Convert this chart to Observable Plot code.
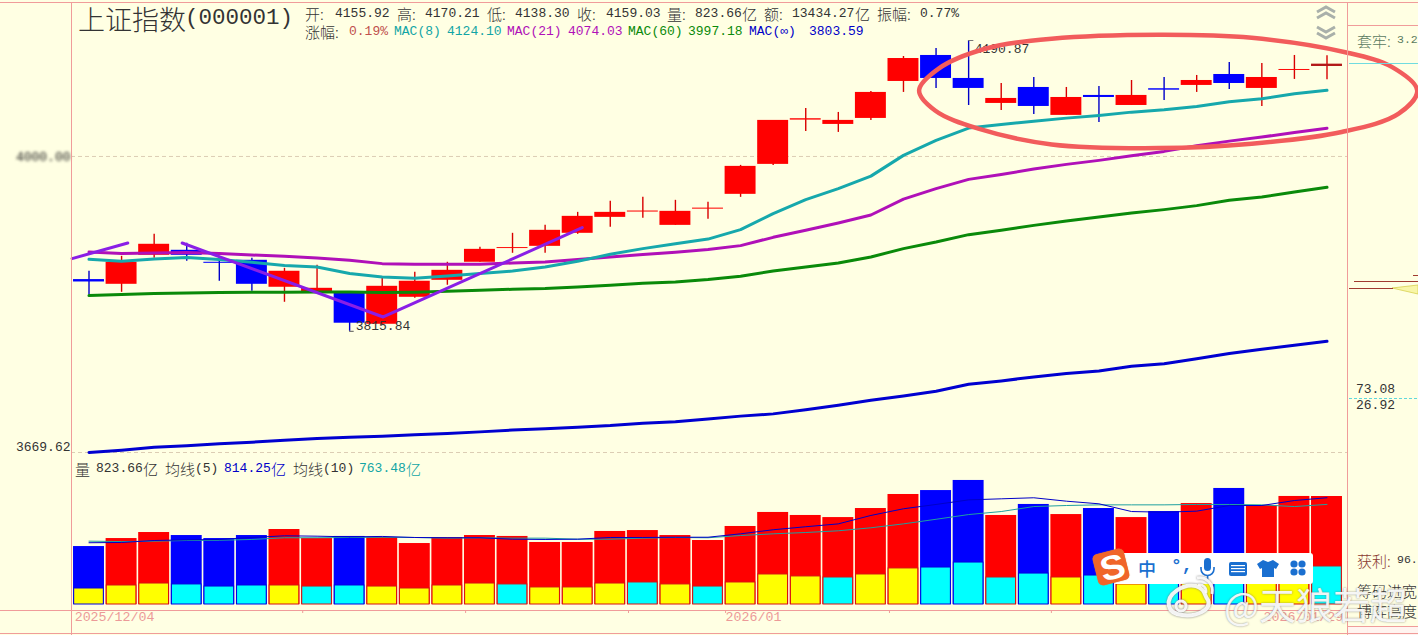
<!DOCTYPE html>
<html lang="zh">
<head>
<meta charset="utf-8">
<script src="https://cdn.jsdelivr.net/npm/d3@7"></script>
<script src="https://cdn.jsdelivr.net/npm/@observablehq/plot@0.6"></script>
<style>
html,body{margin:0;padding:0;background:#FFFFE3;}
#chartBox{position:relative;width:1418px;height:635px;overflow:hidden;background:#FFFFE3;}
#chartBox svg.plot{position:absolute;left:0;}
.t{position:absolute;white-space:pre;transform:translateY(-50%);line-height:1;}
.r{position:absolute;}
</style>
</head>
<body>
<div id="chartBox"></div>
<script>
// ---------- price data (index points, log scale) ----------
const opens = [3880.0,3874.1,3910.5,3916.8,3901.7,3904.2,3870.4,3864.1,3862.9,3824.5,3857.9,3879.1,3901.7,3919.0,3921.8,3938.3,3958.6,3965.4,3948.4,3969.1,3988.1,4026.8,4084.7,4079.0,4086.9,4135.9,4170.7,4139.9,4106.7,4127.9,4090.9,4117.3,4104.0,4126.2,4130.6,4145.2,4126.6,4150.6,4155.92];
const closes = [3877.0,3901.7,3924.4,3910.5,3900.4,3874.1,3890.4,3869.1,3825.8,3871.6,3877.9,3891.6,3918.0,3920.2,3942.1,3959.9,3965.0,3966.7,3966.3,3970.4,4024.2,4084.3,4086.5,4084.3,4121.3,4166.6,4139.9,4126.6,4113.3,4102.7,4114.6,4114.6,4117.3,4124.3,4137.2,4133.2,4141.2,4151.9,4159.03];
const highs = [3890.4,3909.2,3937.0,3925.6,3909.2,3906.7,3894.1,3897.9,3864.1,3881.6,3889.1,3901.7,3920.5,3938.3,3948.4,3965.0,3979.1,3984.2,3980.4,3977.8,4025.5,4084.3,4100.1,4094.8,4122.6,4169.3,4180.1,4190.87,4133.2,4141.2,4127.9,4129.2,4137.2,4141.2,4143.9,4161.3,4160.0,4170.7,4170.21];
const lows = [3860.4,3864.1,3906.7,3902.9,3877.9,3865.4,3851.7,3862.9,3815.84,3823.3,3856.7,3872.9,3901.7,3913.0,3913.0,3937.0,3945.9,3957.4,3948.4,3956.1,3984.2,4025.5,4069.8,4068.5,4084.3,4121.3,4126.6,4104.0,4097.4,4092.2,4090.9,4081.6,4104.0,4110.7,4121.3,4125.2,4102.7,4138.6,4138.30];
const mac8 = [3905.4,3902.9,3905.8,3907.6,3905.1,3901.7,3897.5,3895.8,3887.5,3883.3,3881.6,3884.5,3887.5,3890.7,3895.8,3902.9,3911.7,3918.9,3925.2,3931.0,3943.0,3963.4,3981.3,3995.4,4011.6,4038.5,4058.0,4074.2,4079.0,4083.3,4087.3,4090.8,4095.2,4098.4,4102.7,4109.0,4112.9,4119.5,4124.10];
const mac21 = [3914.6,3912.6,3913.4,3913.9,3912.6,3910.9,3909.2,3907.1,3904.2,3900.0,3899.2,3899.2,3899.2,3900.8,3902.1,3905.1,3908.4,3911.4,3914.3,3917.7,3922.7,3933.2,3942.1,3951.4,3961.6,3982.0,3995.4,4007.4,4013.8,4020.7,4026.8,4032.0,4038.1,4043.7,4051.1,4057.1,4062.4,4068.5,4074.03];
const mac60 = [3860.0,3861.3,3862.5,3863.3,3863.8,3864.2,3864.2,3864.5,3864.5,3863.8,3864.2,3865.4,3866.6,3867.9,3868.8,3870.8,3872.9,3875.4,3877.0,3880.0,3884.1,3890.7,3895.8,3900.8,3908.4,3918.9,3927.2,3936.6,3942.1,3948.4,3953.9,3959.0,3964.1,3968.5,3973.6,3980.4,3984.6,3991.0,3997.18];
const macInf = [3669.7,3672.4,3675.7,3677.6,3679.9,3681.9,3684.0,3686.3,3687.6,3688.8,3690.6,3692.2,3694.1,3696.2,3697.7,3699.7,3701.6,3704.5,3706.3,3709.6,3712.9,3715.6,3720.6,3726.0,3732.0,3737.2,3742.9,3751.3,3755.3,3760.1,3764.2,3767.4,3773.1,3776.2,3782.3,3788.6,3793.8,3798.7,3803.59];

// ---------- hand-drawn annotations, in (day, price) ----------
const trendSeg = ["a","a","b","b","b"];
const trendDays = [-0.52,1.19,2.86,9.03,15.14];
const trendPrices = [3906.3,3926.0,3926.0,3833.5,3945.5];
const circleDays = [25.48,26.07,27.51,29.55,32.83,35.69,38.56,40.0,40.77,40.2,38.45,35.69,32.83,29.55,27.3,25.97];
const circlePrices = [4123.9,4152.8,4179.7,4193.2,4198.6,4194.5,4175.1,4155,4123.9,4093.1,4069,4053.7,4048,4052.8,4073.4,4097.4];

// ---------- y grid ----------
const gridPrices = [4037.1,3669.62];
const gridLabels = ["4000.00","3669.62"];

// ---------- volume data (亿) ----------
const volumes = [442,503,549,526,503,526,572,503,519,511,465,511,526,519,473,473,557,564,526,488,595,702,679,663,732,839,869,946,679,763,686,732,663,709,770,885,755,824,823.66];
const volumesLow = [122,145,160,153,137,145,145,137,145,137,122,145,160,153,130,130,160,168,153,137,168,229,214,206,229,275,282,320,206,236,206,221,153,221,221,259,221,221,290];
const lowKinds = "yyyccc yccyyyy cyyyc ycyyyc yyccccycycycyyc".replace(/ /g,"").split("");
const ma5 = [471,473,488,493,496,511,524,521,516,519,511,509,509,498,496,498,511,511,513,513,539,570,593,615,679,730,763,798,806,814,788,768,709,704,712,755,755,793,814.25];
const ma10 = [483,480,483,488,490,496,509,509,511,513,511,506,509,506,506,498,498,506,511,509,526,539,549,562,585,615,650,686,709,747,755,760,760,760,763,763,760,747,763.48];

// ---------- date axis ----------
const tickDays = [6.56,11.56,16.56,19.54,24.57,29.54];
const startDates = ["2025/12/04","2026/01"];
const startDateDays = [-0.44,19.54];
const endDates = ["2026/01/29"];
const endDateDays = [38.5];

const days = d3.range(opens.length);
const RED="#FF0000", BLUE="#0000FF", PINK="#F09C9A", GRID="#DCCDB4";
const MONO='"Liberation Mono","Noto Sans CJK SC",monospace';
const CJK='"Noto Sans CJK SC",sans-serif';
const isUp = i => closes[i] >= opens[i];
const xOpt = {domain:[0,38],range:[88.5,1326.5],axis:null};
const halfBar = 0.475;
const series = (vals) => days.map(i=>({d:i,v:vals[i]}));

const pricePlot = Plot.plot({
  width:1418,height:455,margin:0,marginLeft:71,marginRight:71,
  x:xOpt,
  y:{type:"log",domain:[4190.87,3669.62],range:[40,452],axis:null},
  style:{background:"transparent",fontFamily:MONO,fontSize:"13px",overflow:"visible"},
  marks:[
    Plot.ruleY(gridPrices,{stroke:GRID,strokeDasharray:"4,3",strokeWidth:1}),
    Plot.axisY([gridPrices[0]],{anchor:"left",tickSize:0,tickPadding:1,tickFormat:()=>gridLabels[0],fill:"#222",fontSize:13,label:null}),
    Plot.axisY([gridPrices[1]],{anchor:"left",tickSize:0,tickPadding:1,tickFormat:()=>gridLabels[1],fill:"#333",fontSize:13,dy:-6,label:null}),
    Plot.ruleX(days,{x:d=>d,y1:d=>lows[d],y2:d=>highs[d],stroke:d=>isUp(d)?"#D80000":"#0000C8",strokeWidth:1.4}),
    Plot.rect(days,{x1:d=>d-halfBar,x2:d=>d+halfBar,y1:d=>opens[d],y2:d=>closes[d],
      fill:d=>d===38?"#B21818":(isUp(d)?RED:BLUE)}),
    Plot.ruleY([highs[27]],{x1:27,x2:27.16,stroke:"#777"}),
    Plot.ruleY([lows[8]],{x1:8,x2:8.14,stroke:"#555"}),
    Plot.text([27],{x:d=>d,y:d=>highs[d],text:d=>highs[d].toFixed(2),textAnchor:"start",dx:6,dy:8,fill:"#333",fontSize:13}),
    Plot.text([8],{x:d=>d,y:d=>lows[d],text:d=>lows[d].toFixed(2),textAnchor:"start",dx:6,dy:-5,fill:"#333",fontSize:13}),
    Plot.line(series(macInf),{x:"d",y:"v",stroke:"#0000D0",strokeWidth:3}),
    Plot.line(series(mac60),{x:"d",y:"v",stroke:"#0A8A0A",strokeWidth:3}),
    Plot.line(series(mac21),{x:"d",y:"v",stroke:"#B010B8",strokeWidth:3}),
    Plot.line(series(mac8),{x:"d",y:"v",stroke:"#16A8AC",strokeWidth:3}),
    Plot.line(d3.range(trendDays.length),{x:i=>trendDays[i],y:i=>trendPrices[i],z:i=>trendSeg[i],stroke:"#8A1FE6",strokeWidth:3}),
    Plot.line(d3.range(circleDays.length),{x:i=>circleDays[i],y:i=>circlePrices[i],curve:"catmull-rom-closed",stroke:"#F25C5C",strokeWidth:4.5})
  ]
});
pricePlot.classList.add("plot"); pricePlot.style.top="0";

const volumePlot = Plot.plot({
  width:1418,height:180,margin:0,marginLeft:71,marginRight:71,marginBottom:25,
  x:xOpt,
  y:{domain:[0,823.66],range:[149,41],axis:null},
  style:{background:"transparent",fontFamily:MONO,fontSize:"13.3px",overflow:"visible"},
  marks:[
    Plot.rect(days,{x1:d=>d-halfBar,x2:d=>d+halfBar,y1:0,y2:d=>volumes[d],fill:d=>isUp(d)?RED:BLUE}),
    Plot.rect(days,{x1:d=>d-0.455,x2:d=>d+0.455,y1:0,y2:d=>volumesLow[d],
      fill:d=>lowKinds[d]==="y"?"#FFFF00":"#00FFFF",stroke:d=>isUp(d)?"#D81010":"#0000E0",strokeWidth:1}),
    Plot.line(series(ma10),{x:"d",y:"v",stroke:"#1FA0A0",strokeWidth:1}),
    Plot.line(series(ma5),{x:"d",y:"v",stroke:"#0000C8",strokeWidth:1}),
    Plot.axisX(tickDays,{anchor:"bottom",tickSize:3,tickFormat:()=>"",stroke:PINK,label:null}),
    Plot.text(d3.range(startDates.length),{x:i=>startDateDays[i],text:i=>startDates[i],textAnchor:"start",
      frameAnchor:"bottom",dy:10,fill:"#EC9A98",fontSize:13.3}),
    Plot.text(d3.range(endDates.length),{x:i=>endDateDays[i],text:i=>endDates[i],textAnchor:"end",
      frameAnchor:"bottom",dy:10,fill:"#EC9A98",fontSize:13.3})
  ]
});
volumePlot.classList.add("plot"); volumePlot.style.top="455px";

const box = document.getElementById("chartBox");
function rule(x,y,w,h,c,extra){const e=document.createElement("div");e.className="r";
  e.style.cssText=`left:${x}px;top:${y}px;width:${w}px;height:${h}px;background:${c};${extra||""}`;box.appendChild(e);return e;}
function txt(x,y,s,c,size,fam,extra){const e=document.createElement("div");e.className="t";e.textContent=s;
  e.style.cssText=`left:${x}px;top:${y}px;color:${c};font-size:${size}px;font-family:${fam};${extra||""}`;box.appendChild(e);return e;}

// frame
rule(1347,626,71,9,"#FFF4F0");
box.appendChild(pricePlot); box.appendChild(volumePlot);
rule(0,2,1418,1,PINK); rule(0,610,1347,1,PINK); rule(0,633,1418,1,PINK);
rule(71,2,1,633,PINK); rule(1347,2,1,633,PINK); rule(1347,25,71,1,PINK); rule(1347,626,71,1,PINK);

// blur the overwritten 4000 label, as in the screenshot
pricePlot.querySelectorAll("text").forEach(t=>{ if(t.textContent===gridLabels[0]){t.style.filter="blur(1.4px)";} });

// title and header
const C="#333";
txt(78,18,"上证指数",C,27,CJK,"font-weight:300;");
txt(185,18,"(000001)",C,22.5,MONO);
const row1=[[305,"开:",1],[335,"4155.92"],[397,"高:",1],[425,"4170.21"],[487,"低:",1],[515,"4138.30"],[577,"收:",1],[606,"4159.03"],[667,"量:",1],[695,"823.66"],[742,"亿",1],[764,"额:",1],[792,"13434.27"],[855,"亿",1],[877,"振幅:",1],[920,"0.77%"]];
row1.forEach(([x,s,c])=>txt(x,13,s,C,c?15:13,c?CJK:MONO,c?"font-weight:300;":""));
const row2=[[305,"涨幅:",C,1],[349,"0.19%","#C0504D"],[394,"MAC(8)","#12A5A5"],[447,"4124.10","#12A5A5"],[507,"MAC(21)","#B010B8"],[568,"4074.03","#B010B8"],[628,"MAC(60)","#0A8A0A"],[688,"3997.18","#0A8A0A"],[749,"MAC(∞)","#0000C8"],[809,"3803.59","#0000C8"]];
row2.forEach(([x,s,col,c])=>txt(x,31,s,col,c?15:13,c?CJK:MONO,c?"font-weight:300;":""));
const volHead=[[75,"量",C,1],[96,"823.66",C],[143,"亿",C,1],[165,"均线",C,1],[195,"(5)",C],[224,"814.25","#0000C8"],[271,"亿","#0000C8",1],[293,"均线",C,1],[323,"(10)",C],[359,"763.48","#12A5A5"],[406,"亿","#12A5A5",1]];
volHead.forEach(([x,s,col,c])=>txt(x,468,s,col,c?15:13,c?CJK:MONO,c?"font-weight:300;":""));

// scroll chevrons, weibo logo
const deco=document.createElementNS("http://www.w3.org/2000/svg","svg");
deco.setAttribute("width",1418);deco.setAttribute("height",635);
deco.style.cssText="position:absolute;left:0;top:0;";
deco.innerHTML=`
<g fill="none" stroke="#A9B0AA" stroke-width="3">
<polyline points="1317,12 1326,7 1335,12"/><polyline points="1317,18 1326,13 1335,18"/>
<polyline points="1317,27 1326,32 1335,27"/><polyline points="1317,33 1326,38 1335,33"/>
</g>
<polygon points="1392,288 1418,285 1418,294" fill="#F8F6A8" stroke="#D8D050" stroke-width="0.8"/>`;
box.appendChild(deco);

// right panel
txt(1357,40,"套牢:","#5A7A60",15,CJK,"font-weight:300;");
txt(1397,40,"3.2","#5A7A60",11.5,MONO);
rule(1349,63,69,1,"#70DCE0");
rule(1354,281,64,1,"#A03A30"); rule(1349,288,44,1,"#A03A30");
rule(1413,275,5,1,"#A03A30");
txt(1356,389,"73.08",C,13,MONO);
rule(1349,398,69,1,"repeating-linear-gradient(90deg,#60D8DC 0 3px,transparent 3px 5px)");
txt(1356,405,"26.92",C,13,MONO);
txt(1357,560,"获利:","#8A3A30",15,CJK,"font-weight:300;");
txt(1397,560,"96.",C,11.5,MONO);
txt(1357,590,"筹码进宽",C,15,CJK,"font-weight:300;");
txt(1357,610,"博弈高度",C,15,CJK,"font-weight:300;");

// input method toolbar
rule(1115,553,198,31,"#FFFFFF","border-radius:0 3px 3px 0;");
rule(1095,551,32,32,"#F0652A","border-radius:5px;transform:rotate(-14deg);box-shadow:0 0 1px #c84;");
txt(1101,567,"S","#FFF",34,'"Liberation Sans",sans-serif',"font-weight:bold;transform:translateY(-50%) rotate(-14deg) scaleX(1.1);");
txt(1138,568,"中","#1A6FD0",18,CJK,"font-weight:500;");
txt(1171,566,"°,","#1A6FD0",18,MONO,"font-weight:bold;");
const ime=document.createElementNS("http://www.w3.org/2000/svg","svg");
ime.setAttribute("width",1418);ime.setAttribute("height",635);
ime.style.cssText="position:absolute;left:0;top:0;";
ime.innerHTML=`
<g fill="#1A6FD0" stroke="none">
<rect x="1204" y="558" width="7" height="13" rx="3.5"/>
<path d="M1201,567 v2 a6.5,6.5 0 0 0 13,0 v-2" fill="none" stroke="#1A6FD0" stroke-width="1.6"/>
<rect x="1206.8" y="575" width="1.6" height="5"/>
<rect x="1229" y="562" width="18" height="14" rx="2"/>
<g fill="#fff"><rect x="1231" y="565" width="14" height="1.2"/><rect x="1231" y="568" width="14" height="1.2"/><rect x="1231" y="571" width="14" height="1.2"/></g>
<path d="M1263,560 l5,2 l5,-2 l6,4 l-3,5 l-2,-1 v9 h-12 v-9 l-2,1 l-3,-5z"/>
<circle cx="1294" cy="564" r="3.6"/><circle cx="1302" cy="564" r="3.6"/><circle cx="1294" cy="572" r="3.6"/><circle cx="1302" cy="572" r="3.6"/>
</g>
<g fill="none" stroke="#fff" stroke-opacity="0.9" style="filter:drop-shadow(0 0 1px #777)">
<path d="M1169,606 C1166,594 1184,583 1196,586 C1206,589 1204,596 1208,600 C1212,610 1196,617 1182,615 C1174,614 1170,611 1169,606Z" stroke-width="4"/>
<circle cx="1181" cy="606" r="5" stroke-width="3"/>
<path d="M1197,578 C1206,576 1214,584 1212,594" stroke-width="3"/>
<path d="M1198,585 C1203,584 1207,588 1206,593" stroke-width="2.5"/>
</g>`;
box.appendChild(ime);

// watermark
txt(1224,604,"@天狼若超","rgba(255,255,255,0.92)",37,CJK,"font-weight:400;text-shadow:0 0 2px rgba(110,110,110,.8);");
</script>
</body>
</html>
